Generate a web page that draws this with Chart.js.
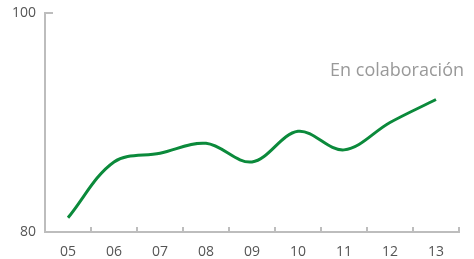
<!DOCTYPE html>
<html>
<head>
<meta charset="utf-8">
<script src="https://cdn.jsdelivr.net/npm/chart.js@4"></script>
<style>
  html, body { margin: 0; padding: 0; background: #fff; }
  #wrap { width: 474px; height: 259px; }
</style>
</head>
<body>
<div id="wrap"><canvas id="lineChart"></canvas></div>
<script>
var years = ['05', '06', '07', '08', '09', '10', '11', '12', '13'];
var colaboracion = [81.3, 86.4, 87.2, 88.1, 86.4, 89.2, 87.5, 90.0, 92.1];
var seriesName = 'En colaboración';
var yTicks = [80, 100];

// short tick marks drawn inside the plot, plus the series label
var innerTicks = {
  id: 'innerTicks',
  afterDraw: function(chart) {
    var ctx = chart.ctx;
    var x = chart.scales.x;
    var y = chart.scales.y;
    var area = chart.chartArea;
    ctx.save();
    ctx.strokeStyle = '#bdbdbd';
    ctx.lineWidth = 2;
    ctx.beginPath();
    for (var i = 0; i < years.length; i++) {
      var px = x.getPixelForValue(i) + (x.getPixelForValue(1) - x.getPixelForValue(0)) / 2;
      ctx.moveTo(px, area.bottom);
      ctx.lineTo(px, area.bottom - 5);
    }
    var top = y.getPixelForValue(100);
    ctx.moveTo(area.left, top);
    ctx.lineTo(area.left + 8, top);
    ctx.stroke();

    ctx.fillStyle = '#999999';
    ctx.font = '18px "Open Sans"';
    ctx.textAlign = 'right';
    ctx.textBaseline = 'alphabetic';
    ctx.fillText(seriesName, chart.width - 10, y.getPixelForValue(94.25));
    ctx.restore();
  }
};

var ctx = document.getElementById('lineChart').getContext('2d');
var lineChart = new Chart(ctx, {
  type: 'line',
  data: {
    labels: years,
    datasets: [{
      label: seriesName,
      data: colaboracion,
      borderColor: '#0b8a3b',
      borderWidth: 3,
      tension: 0.35,
      pointRadius: 0,
      fill: false
    }]
  },
  options: {
    responsive: true,
    maintainAspectRatio: false,
    animation: false,
    layout: { padding: { top: 13, right: 15, left: 0, bottom: 0 } },
    plugins: { legend: { display: false }, tooltip: { enabled: false } },
    scales: {
      x: {
        offset: true,
        grid: { display: false },
        border: { display: true, color: '#bdbdbd', width: 2 },
        ticks: { color: '#555', font: { family: 'Open Sans', size: 14 }, padding: 4, maxRotation: 0 },
        afterFit: function(scale) { scale.height = 27; }
      },
      y: {
        min: 80,
        max: 100,
        grid: { display: false },
        border: { display: true, color: '#bdbdbd', width: 2 },
        afterBuildTicks: function(scale) {
          scale.ticks = yTicks.map(function(v) { return { value: v }; });
        },
        ticks: { color: '#555', font: { family: 'Open Sans', size: 14 }, padding: 1 },
        afterFit: function(scale) { scale.width = 45; }
      }
    }
  },
  plugins: [innerTicks]
});
</script>
</body>
</html>
